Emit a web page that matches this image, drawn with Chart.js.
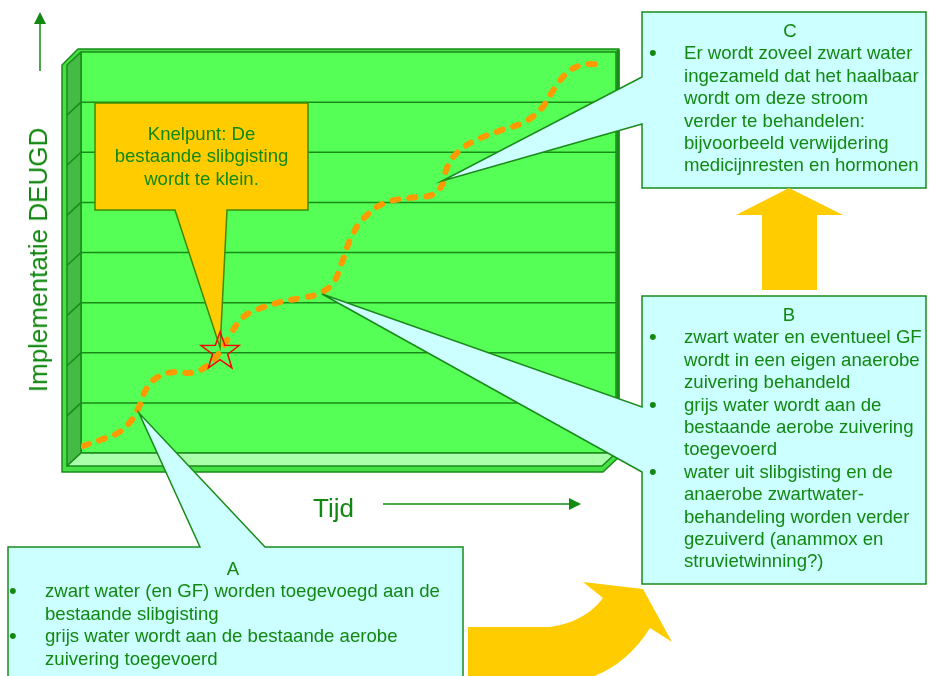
<!DOCTYPE html>
<html>
<head>
<meta charset="utf-8">
<script src="https://cdn.jsdelivr.net/npm/chart.js@4.4.1/dist/chart.umd.min.js"></script>
<style>
  body { margin: 0; background: #fff; }
  #wrap { position: relative; width: 929px; height: 676px; overflow: hidden; }
  #c { position: absolute; left: 0; top: 0; }
  .t { position: absolute; font-family: "Liberation Sans", Arial, sans-serif; font-size: 18.6px; line-height: 22.4px; color: #118811; white-space: nowrap; }
  .t .h { text-align: center; }
  .t .li { position: relative; }
  .t .b { position: absolute; left: -35px; font-size: 22px; line-height: 22.4px; }
  .big { position: absolute; font-family: "Liberation Sans", Arial, sans-serif; font-size: 26px; line-height: 30px; color: #118811; white-space: nowrap; }
</style>
</head>
<body>
<div id="wrap">
  <canvas id="c" width="929" height="676"></canvas>

  <div class="big" style="left:38px; top:260px; transform: translate(-50%,-50%) rotate(-90deg);">Implementatie DEUGD</div>
  <div class="big" style="left:313px; top:493px;">Tijd</div>

  <div class="t" style="left:95px; top:123px; width:213px; text-align:center;">
    <div>Knelpunt: De</div><div>bestaande slibgisting</div><div>wordt te klein.</div>
  </div>

  <div class="t" style="left:684px; top:20px;">
    <div class="h" style="width:212px;">C</div>
    <div class="li"><span class="b">•</span>Er wordt zoveel zwart water<br>ingezameld dat het haalbaar<br>wordt om deze stroom<br>verder te behandelen:<br>bijvoorbeeld verwijdering<br>medicijnresten en hormonen</div>
  </div>

  <div class="t" style="left:684px; top:304px;">
    <div class="h" style="width:210px;">B</div>
    <div class="li"><span class="b">•</span>zwart water en eventueel GF<br>wordt in een eigen anaerobe<br>zuivering behandeld</div>
    <div class="li"><span class="b">•</span>grijs water wordt aan de<br>bestaande aerobe zuivering<br>toegevoerd</div>
    <div class="li"><span class="b">•</span>water uit slibgisting en de<br>anaerobe zwartwater-<br>behandeling worden verder<br>gezuiverd (anammox en<br>struvietwinning?)</div>
  </div>

  <div class="t" style="left:45px; top:558px;">
    <div class="h" style="width:376px;">A</div>
    <div class="li"><span class="b" style="left:-36px;">•</span>zwart water (en GF) worden toegevoegd aan de<br>bestaande slibgisting</div>
    <div class="li"><span class="b" style="left:-36px;">•</span>grijs water wordt aan de bestaande aerobe<br>zuivering toegevoerd</div>
  </div>
</div>

<script>
// tijd (0-100) tegen implementatie (0-8)
const xValues = [0.4, 3.6, 6.9, 9.5, 11.0, 12.3, 14.4, 17.6, 20.7, 23.6, 26.0, 27.9, 30.1, 33.1, 37.2, 40.9, 44.3, 47.1,
  48.8, 50.7, 53.1, 56.8, 61.5, 65.6, 67.5, 68.4, 70.5, 73.6, 78.3, 83.0, 86.2, 88.6, 91.0, 93.6, 96.3]
const yValues = [0.14, 0.26, 0.40, 0.66, 0.96, 1.30, 1.52, 1.62, 1.60, 1.74, 2.02, 2.36, 2.69, 2.87, 3.01, 3.09, 3.17, 3.39,
  3.81, 4.35, 4.71, 4.99, 5.09, 5.15, 5.35, 5.69, 6.01, 6.23, 6.43, 6.61, 6.89, 7.29, 7.60, 7.74, 7.76]
const gridLevels = [1, 2, 3, 4, 5, 6, 7]
const knelpunt = { x: 26.0, y: 2.02 }

const GREEN = '#1a8a1a'

function poly(ctx, pts, fill, stroke, lw) {
  ctx.beginPath()
  ctx.moveTo(pts[0][0], pts[0][1])
  for (let i = 1; i < pts.length; i++) ctx.lineTo(pts[i][0], pts[i][1])
  ctx.closePath()
  if (fill) { ctx.fillStyle = fill; ctx.fill() }
  if (stroke) { ctx.strokeStyle = stroke; ctx.lineWidth = lw || 1.5; ctx.stroke() }
}

// groene "3D" grafiekbak achter de lijn
const boxPlugin = {
  id: 'box3d',
  beforeDatasetsDraw(chart) {
    const ctx = chart.ctx
    const a = chart.chartArea
    const y = chart.scales.y
    const L = a.left, R = a.right, T = a.top, B = a.bottom
    ctx.save()
    ctx.lineJoin = 'round'
    // buitenrand
    poly(ctx, [[L - 19, T + 13], [L - 3, T - 3], [R + 3, T - 3], [R + 3, B + 4], [R - 13, B + 19], [L - 19, B + 19]], '#44e044', GREEN, 1.5)
    // achterwand
    poly(ctx, [[L, T], [R, T], [R, B], [L, B]], '#55ff55', GREEN, 1.5)
    // linkerwand
    poly(ctx, [[L, T], [L, B], [L - 14, B + 13], [L - 14, T + 13]], '#44bb44', GREEN, 1.5)
    // vloer
    poly(ctx, [[L, B], [R, B], [R - 14, B + 13], [L - 14, B + 13]], '#aaffaa', GREEN, 1.5)
    ctx.strokeStyle = GREEN
    ctx.lineWidth = 1.5
    gridLevels.forEach(v => {
      const py = y.getPixelForValue(v)
      ctx.beginPath()
      ctx.moveTo(L - 14, py + 13)
      ctx.lineTo(L, py)
      ctx.lineTo(R, py)
      ctx.stroke()
    })
    ctx.lineWidth = 3
    ctx.beginPath()
    ctx.moveTo(R + 2, T - 2); ctx.lineTo(R + 2, B + 3)
    ctx.stroke()
    ctx.restore()
  },
  afterDatasetsDraw(chart) {
    const ctx = chart.ctx
    const sx = chart.scales.x, sy = chart.scales.y
    ctx.save()
    ctx.lineJoin = 'miter'

    // ballonnen
    const sx0 = sx.getPixelForValue(knelpunt.x), sy0 = sy.getPixelForValue(knelpunt.y)
    poly(ctx, [[95, 103], [308, 103], [308, 210], [227, 210], [sx0, sy0 - 4], [175, 210], [95, 210]], '#ffcc00', '#3f8a00', 1.5)
    poly(ctx, [[8, 547], [200, 547], [139, 413], [265, 547], [463, 547], [463, 690], [8, 690]], '#ccffff', GREEN, 1.5)
    poly(ctx, [[642, 296], [926, 296], [926, 584], [642, 584], [642, 472], [322, 294], [642, 407]], '#ccffff', GREEN, 1.5)
    poly(ctx, [[642, 12], [926, 12], [926, 188], [642, 188], [642, 124], [442, 181], [642, 77]], '#ccffff', GREEN, 1.5)

    // ster op het knelpunt
    ctx.beginPath()
    for (let i = 0; i < 10; i++) {
      const r = i % 2 === 0 ? 20 : 8
      const ang = -Math.PI / 2 + i * Math.PI / 5
      const px = sx0 + r * Math.cos(ang), py = sy0 + r * Math.sin(ang)
      i === 0 ? ctx.moveTo(px, py) : ctx.lineTo(px, py)
    }
    ctx.closePath()
    ctx.strokeStyle = '#ff0000'
    ctx.lineWidth = 1.5
    ctx.stroke()

    // gele pijlen
    poly(ctx, [[789, 188], [843, 215], [817, 215], [817, 290], [762, 290], [762, 215], [736, 215]], '#ffcc00')
    ctx.beginPath()
    ctx.moveTo(468, 627)
    ctx.lineTo(550, 627)
    ctx.quadraticCurveTo(585, 622, 603, 598)
    ctx.lineTo(583, 582)
    ctx.lineTo(643, 589)
    ctx.lineTo(672, 642)
    ctx.lineTo(650, 628)
    ctx.quadraticCurveTo(625, 668, 583, 680)
    ctx.lineTo(468, 680)
    ctx.closePath()
    ctx.fillStyle = '#ffcc00'
    ctx.fill()

    // aspijlen
    ctx.strokeStyle = '#118811'
    ctx.fillStyle = '#118811'
    ctx.lineWidth = 1.5
    ctx.beginPath(); ctx.moveTo(40, 71); ctx.lineTo(40, 22); ctx.stroke()
    poly(ctx, [[40, 12], [46, 24], [34, 24]], '#118811')
    ctx.beginPath(); ctx.moveTo(383, 504); ctx.lineTo(569, 504); ctx.stroke()
    poly(ctx, [[581, 504], [569, 498], [569, 510]], '#118811')
    ctx.restore()
  }
}

const ctx = document.getElementById('c').getContext('2d')
let curve = new Chart(ctx, {
  type: 'line',
  data: {
    datasets: [
      {
        label: 'DEUGD',
        data: xValues.map((x, i) => ({ x: x, y: yValues[i] })),
        borderColor: '#ff9900',
        borderWidth: 6,
        borderDash: [6, 11],
        borderCapStyle: 'round',
        tension: 0.4,
        pointRadius: 0,
        fill: false,
      },
    ],
  },
  options: {
    responsive: false,
    animation: false,
    layout: { padding: { left: 81, right: 313, top: 52, bottom: 223 } },
    scales: {
      x: { type: 'linear', min: 0, max: 100, display: false },
      y: { type: 'linear', min: 0, max: 8, display: false },
    },
    plugins: {
      legend: { display: false },
      tooltip: { enabled: false },
    },
  },
  plugins: [boxPlugin],
})
</script>
</body>
</html>
